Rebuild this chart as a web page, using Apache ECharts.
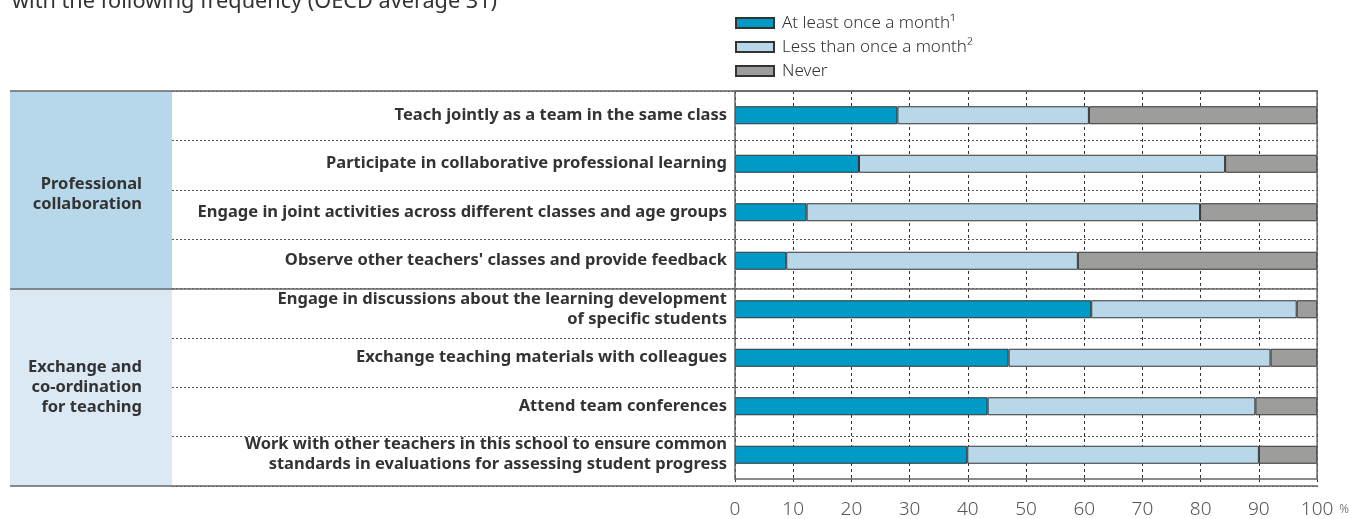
<!DOCTYPE html>
<html>
<head>
<meta charset="utf-8">
<script src="https://cdn.jsdelivr.net/npm/echarts@6/dist/echarts.min.js"></script>
<style>
  html, body { margin: 0; padding: 0; background: #ffffff; }
  #chart { width: 1352px; height: 519px; }
</style>
</head>
<body>
<div id="chart"></div>
<script>
// Collaboration activities, share of teachers by frequency (%)
const categories = [
  'Teach jointly as a team in the same class',
  'Participate in collaborative professional learning',
  'Engage in joint activities across different classes and age groups',
  "Observe other teachers' classes and provide feedback",
  'Engage in discussions about the learning development\nof specific students',
  'Exchange teaching materials with colleagues',
  'Attend team conferences',
  'Work with other teachers in this school to ensure common\nstandards in evaluations for assessing student progress'
];
const groups = ['Professional\ncollaboration', 'Exchange and\nco-ordination\nfor teaching'];
const seriesNames = ['At least once a month\u00B9', 'Less than once a month\u00B2', 'Never'];
const atLeastMonthly = [27.9, 21.3, 12.3, 8.8, 61.2, 47.0, 43.4, 39.9];
const lessThanMonthly = [32.9, 62.9, 67.6, 50.1, 35.3, 45.0, 46.0, 50.1];
const never = [39.2, 15.8, 20.1, 41.1, 3.5, 8.0, 10.6, 10.0];
const xTicks = [0, 10, 20, 30, 40, 50, 60, 70, 80, 90, 100];

const FONT = '"Noto Sans", "Open Sans", sans-serif';
const TEXT = '#333333';
const colors = ['#009ac7', '#b8d8ea', '#9d9d9c'];
const groupFill = ['#b7d7ea', '#dbe9f5'];
const groupLabelShift = [5, 0];

const TOP = 91, BOTTOM = 33, RIGHT = 34;

const chart = echarts.init(document.getElementById('chart'), null, { renderer: 'canvas' });

const valueSeries = [atLeastMonthly, lessThanMonthly, never].map((vals, i) => ({
  name: seriesNames[i],
  type: 'bar',
  stack: 'freq',
  xAxisIndex: 0,
  yAxisIndex: 0,
  barWidth: 18,
  z: 5,
  itemStyle: { color: colors[i], borderColor: '#333333', borderWidth: 1 },
  emphasis: { disabled: true },
  data: vals
}));

chart.setOption({
  animation: false,
  textStyle: { fontFamily: FONT },
  title: {
    text: 'with the following frequency (OECD average 31)',
    left: 7,
    top: -14,
    textStyle: { fontFamily: FONT, fontSize: 21.7, fontWeight: 'normal', color: TEXT }
  },
  legend: {
    orient: 'vertical',
    left: 730,
    top: 9,
    itemWidth: 38,
    itemHeight: 10,
    itemGap: 6,
    icon: 'rect',
    data: seriesNames,
    textStyle: { fontFamily: FONT, fontSize: 17, lineHeight: 18, fontWeight: 300, color: TEXT, padding: [0, 0, 0, 3] }
  },
  grid: [
    // bars
    { left: 735, right: RIGHT, top: TOP, bottom: BOTTOM, show: true, borderColor: '#666666', borderWidth: 1.5, z: 6 },
    // dashed row separators across the label column
    { left: 172, right: RIGHT, top: TOP, bottom: BOTTOM },
    // group boxes
    { left: 10, width: 162, top: TOP, bottom: BOTTOM },
    // solid rules between groups
    { left: 10, right: RIGHT, top: TOP, bottom: BOTTOM }
  ],
  xAxis: [
    {
      gridIndex: 0, type: 'value', min: 0, max: 100, interval: 10,
      axisLine: { show: false },
      axisTick: { show: true, length: 5, lineStyle: { color: '#333333', type: [3, 3] } },
      splitLine: { show: true, lineStyle: { color: '#333333', width: 1, type: [3, 3] } },
      axisLabel: {
        margin: 21, fontFamily: FONT, fontSize: 19, fontWeight: 300, color: '#555555',
        formatter: v => (xTicks.indexOf(v) >= 0 ? String(v) : '')
      },
      name: '%',
      nameLocation: 'end',
      nameGap: 20,
      nameTextStyle: { fontFamily: FONT, fontSize: 12, fontWeight: 300, color: '#555555', verticalAlign: 'top', padding: [25, 0, 0, 0] }
    },
    { gridIndex: 1, type: 'value', min: 0, max: 1, show: false },
    { gridIndex: 2, type: 'value', min: 0, max: 1, show: false },
    { gridIndex: 3, type: 'value', min: 0, max: 1, show: false }
  ],
  yAxis: [
    {
      gridIndex: 0, type: 'category', inverse: true, data: categories,
      axisLine: { show: false }, axisTick: { show: false },
      splitLine: { show: false },
      axisLabel: {
        margin: 8, fontFamily: FONT, fontSize: 16.5, fontWeight: 'bold', color: TEXT,
        lineHeight: 20, align: 'right', padding: [0, 0, 6, 0]
      }
    },
    {
      gridIndex: 1, type: 'category', inverse: true, data: categories,
      axisLine: { show: false }, axisTick: { show: false }, axisLabel: { show: false },
      splitLine: { show: true, lineStyle: { color: '#555555', width: 1, type: [2, 2] } }
    },
    {
      gridIndex: 2, type: 'category', inverse: true, data: groups,
      axisLine: { show: false }, axisTick: { show: false }, axisLabel: { show: false },
      splitLine: { show: false }
    },
    {
      gridIndex: 3, type: 'category', inverse: true, data: groups, z: 4,
      axisLine: { show: false }, axisTick: { show: false }, axisLabel: { show: false },
      splitLine: { show: true, lineStyle: { color: '#666666', width: 1.5, type: 'solid' } }
    }
  ],
  series: valueSeries.concat([
    {
      type: 'bar',
      xAxisIndex: 2,
      yAxisIndex: 2,
      barWidth: '100%',
      z: 1,
      silent: true,
      data: groups.map((g, i) => ({
        value: 1,
        itemStyle: { color: groupFill[i] },
        label: { offset: [0, groupLabelShift[i]] }
      })),
      label: {
        show: true,
        position: 'insideRight',
        distance: 30,
        formatter: p => groups[p.dataIndex],
        fontFamily: FONT, fontSize: 16.5, fontWeight: 'bold', color: TEXT,
        lineHeight: 20, align: 'right'
      }
    }
  ])
});
</script>
</body>
</html>
